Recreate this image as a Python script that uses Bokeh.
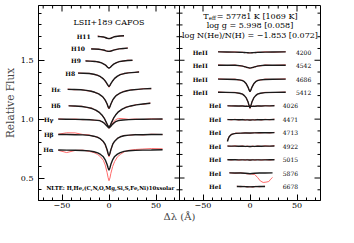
import math
from bokeh.plotting import figure
from bokeh.models import Range1d, FixedTicker, Span
from bokeh.core.properties import value
from bokeh.embed import file_html
from bokeh.resources import INLINE

# ---------------- left panel: Balmer lines ----------------
balmer_names = ["H11", "H10", "H9", "H8", "Hε", "Hδ", "Hγ", "Hβ", "Hα"]
balmer_cont = [1.704, 1.597, 1.494, 1.391, 1.253, 1.113, 1.000, 0.870, 0.738]

h11_x = [-12, -9, -6, -4, -2, 0, 2, 4, 6, 9, 12, 16]
h11_mod = [1.702, 1.701, 1.698, 1.693, 1.687, 1.684, 1.687, 1.694, 1.700, 1.704, 1.706, 1.708]
h11_obs = [1.708, 1.700, 1.699, 1.690, 1.688, 1.682, 1.689, 1.693, 1.703, 1.702, 1.709, 1.706]

h10_x = [-19, -15, -11, -8, -5, -3, -1, 0, 1, 3, 5, 8, 11, 15, 20]
h10_mod = [1.596, 1.595, 1.593, 1.590, 1.585, 1.580, 1.576, 1.575, 1.576, 1.581, 1.586, 1.592, 1.597, 1.600, 1.603]
h10_obs = [1.600, 1.593, 1.595, 1.588, 1.587, 1.578, 1.577, 1.573, 1.579, 1.580, 1.589, 1.590, 1.599, 1.598, 1.605]

h9_x = [-25, -20, -15, -11, -8, -5, -3, -1.5, 0, 1.5, 3, 5, 8, 11, 15, 20, 25]
h9_mod = [1.494, 1.493, 1.490, 1.485, 1.478, 1.466, 1.454, 1.441, 1.432, 1.441, 1.454, 1.467, 1.480, 1.488, 1.494, 1.498, 1.500]
h9_obs = [1.497, 1.491, 1.492, 1.483, 1.480, 1.463, 1.456, 1.438, 1.434, 1.443, 1.451, 1.469, 1.478, 1.490, 1.492, 1.501, 1.498]

h8_x = [-33, -27, -21, -16, -12, -9, -6, -4, -2, -1, 0, 1, 2, 4, 6, 9, 12, 16, 21, 27, 32]
h8_mod = [1.391, 1.390, 1.387, 1.381, 1.372, 1.360, 1.342, 1.324, 1.300, 1.287, 1.277, 1.287, 1.301, 1.326, 1.346, 1.365, 1.378, 1.387, 1.393, 1.397, 1.400]
h8_obs = [1.394, 1.388, 1.389, 1.379, 1.374, 1.357, 1.345, 1.320, 1.296, 1.283, 1.270, 1.284, 1.304, 1.322, 1.349, 1.362, 1.380, 1.385, 1.396, 1.395, 1.403]

he_x = [-44, -37, -30, -24, -19, -15, -11, -8, -6, -4, -2, -1, 0, 1, 2, 4, 6, 8, 11, 15, 19, 24, 30, 37, 45]
he_mod = [1.253, 1.252, 1.249, 1.244, 1.237, 1.228, 1.214, 1.198, 1.183, 1.161, 1.128, 1.106, 1.090, 1.106, 1.129, 1.163, 1.186, 1.202, 1.218, 1.232, 1.241, 1.248, 1.253, 1.257, 1.260]
he_obs = [1.256, 1.249, 1.252, 1.241, 1.239, 1.225, 1.217, 1.195, 1.186, 1.158, 1.131, 1.102, 1.086, 1.109, 1.126, 1.166, 1.183, 1.205, 1.215, 1.236, 1.239, 1.251, 1.250, 1.260, 1.258]

hd_x = [-43, -36, -29, -23, -18, -14, -10, -7, -5, -3, -1.5, 0, 1.5, 3, 5, 7, 10, 14, 18, 23, 29, 36, 44]
hd_mod = [1.113, 1.111, 1.107, 1.100, 1.090, 1.076, 1.055, 1.030, 1.007, 0.975, 0.948, 0.930, 0.949, 0.977, 1.010, 1.035, 1.062, 1.085, 1.100, 1.112, 1.121, 1.128, 1.135]
hd_obs = [1.116, 1.108, 1.110, 1.097, 1.093, 1.073, 1.058, 1.027, 1.010, 0.971, 0.951, 0.926, 0.952, 0.973, 1.013, 1.032, 1.065, 1.082, 1.103, 1.109, 1.124, 1.125, 1.138]

hg_x = [-54, -45, -36, -28, -21, -15, -10, -7, -5, -3, -1.5, 0, 1.5, 3, 5, 7, 10, 15, 21, 28, 36, 45, 57]
hg_mod = [1.000, 0.999, 0.998, 0.997, 0.995, 0.992, 0.987, 0.977, 0.965, 0.949, 0.935, 0.925, 0.935, 0.950, 0.966, 0.978, 0.988, 0.993, 0.996, 0.998, 0.999, 1.000, 1.001]
hg_obs = [1.003, 0.997, 1.001, 0.995, 0.998, 0.989, 0.990, 0.974, 0.968, 0.946, 0.938, 0.921, 0.938, 0.955, 0.975, 0.995, 1.006, 1.004, 0.998, 1.001, 0.997, 1.003, 0.999]

hb_x = [-54, -45, -36, -28, -21, -16, -12, -9, -6, -4, -2, -1, 0, 1, 2, 4, 6, 9, 12, 16, 21, 28, 36, 45, 57]
hb_mod = [0.870, 0.869, 0.868, 0.866, 0.862, 0.855, 0.845, 0.832, 0.810, 0.785, 0.740, 0.710, 0.688, 0.710, 0.741, 0.787, 0.813, 0.836, 0.850, 0.859, 0.864, 0.867, 0.868, 0.869, 0.870]
hb_obs = [0.872, 0.884, 0.883, 0.870, 0.866, 0.852, 0.848, 0.829, 0.806, 0.780, 0.733, 0.702, 0.680, 0.705, 0.737, 0.790, 0.810, 0.839, 0.848, 0.862, 0.861, 0.870, 0.866, 0.872, 0.869]

ha_x = [-54, -45, -36, -28, -21, -16, -12, -9, -6, -4, -2, -1, 0, 1, 2, 4, 6, 9, 12, 16, 21, 28, 36, 45, 57]
ha_mod = [0.738, 0.737, 0.736, 0.734, 0.730, 0.723, 0.713, 0.700, 0.680, 0.655, 0.615, 0.587, 0.567, 0.587, 0.616, 0.657, 0.683, 0.703, 0.716, 0.726, 0.732, 0.735, 0.737, 0.738, 0.740]
ha_obs = [0.735, 0.716, 0.734, 0.737, 0.726, 0.716, 0.700, 0.680, 0.650, 0.610, 0.545, 0.505, 0.477, 0.500, 0.540, 0.600, 0.640, 0.680, 0.700, 0.722, 0.735, 0.742, 0.746, 0.750, 0.748]

balmer_x = [h11_x, h10_x, h9_x, h8_x, he_x, hd_x, hg_x, hb_x, ha_x]
balmer_mod = [h11_mod, h10_mod, h9_mod, h8_mod, he_mod, hd_mod, hg_mod, hb_mod, ha_mod]
balmer_obs = [h11_obs, h10_obs, h9_obs, h8_obs, he_obs, hd_obs, hg_obs, hb_obs, ha_obs]

# ---------------- right panel: helium lines ----------------
helium_ions = ["HeII", "HeII", "HeII", "HeII", "HeI", "HeI", "HeI", "HeI", "HeI", "HeI", "HeI"]
helium_wl = ["4200", "4542", "4686", "5412", "4026", "4471", "4713", "4922", "5015", "5876", "6678"]
helium_cont = [1.570, 1.458, 1.340, 1.228, 1.113, 0.996, 0.883, 0.771, 0.654, 0.542, 0.427]

heii_x = [-34, -24, -16, -11, -8, -6, -4, -2, -1, 0, 1, 2, 4, 6, 8, 11, 16, 24, 38]
he4200_mod = [1.571, 1.570, 1.569, 1.568, 1.567, 1.566, 1.565, 1.564, 1.563, 1.563, 1.563, 1.564, 1.565, 1.566, 1.567, 1.568, 1.569, 1.570, 1.571]
he4200_obs = [1.574, 1.568, 1.571, 1.566, 1.569, 1.564, 1.567, 1.561, 1.565, 1.560, 1.566, 1.562, 1.567, 1.564, 1.570, 1.566, 1.572, 1.568, 1.573]
he4542_mod = [1.458, 1.458, 1.457, 1.454, 1.450, 1.446, 1.441, 1.437, 1.435, 1.433, 1.435, 1.437, 1.441, 1.446, 1.450, 1.454, 1.457, 1.458, 1.458]
he4542_obs = [1.461, 1.455, 1.460, 1.451, 1.453, 1.443, 1.444, 1.434, 1.437, 1.430, 1.438, 1.434, 1.444, 1.443, 1.453, 1.451, 1.460, 1.456, 1.461]
he4686_mod = [1.340, 1.339, 1.337, 1.333, 1.327, 1.318, 1.300, 1.270, 1.248, 1.234, 1.248, 1.270, 1.300, 1.318, 1.327, 1.333, 1.337, 1.339, 1.340]
he4686_obs = [1.343, 1.337, 1.340, 1.330, 1.330, 1.315, 1.303, 1.266, 1.251, 1.230, 1.251, 1.267, 1.303, 1.315, 1.330, 1.331, 1.340, 1.337, 1.342]
he5412_mod = [1.228, 1.227, 1.225, 1.220, 1.212, 1.200, 1.180, 1.145, 1.115, 1.095, 1.115, 1.145, 1.180, 1.200, 1.212, 1.220, 1.225, 1.227, 1.228]
he5412_obs = [1.231, 1.225, 1.228, 1.217, 1.215, 1.197, 1.183, 1.141, 1.118, 1.090, 1.118, 1.141, 1.183, 1.197, 1.215, 1.218, 1.228, 1.225, 1.230]

hei_x = [-24, -20, -16, -12, -8, -5, -3, 0, 3, 5, 8, 12, 16, 21, 26]
he4026_mod = [1.113, 1.113, 1.112, 1.112, 1.111, 1.110, 1.109, 1.108, 1.109, 1.110, 1.111, 1.112, 1.113, 1.113, 1.114]
he4026_obs = [1.116, 1.110, 1.115, 1.109, 1.114, 1.107, 1.112, 1.105, 1.112, 1.107, 1.114, 1.109, 1.116, 1.111, 1.117]
he4471_mod = [0.996, 0.996, 0.996, 0.995, 0.995, 0.994, 0.994, 0.993, 0.994, 0.994, 0.995, 0.995, 0.996, 0.996, 0.997]
he4471_obs = [0.999, 0.993, 0.999, 0.992, 0.998, 0.991, 0.997, 0.990, 0.997, 0.991, 0.998, 0.992, 0.999, 0.994, 1.000]
he4922_mod = [0.771, 0.771, 0.771, 0.770, 0.770, 0.769, 0.769, 0.768, 0.769, 0.769, 0.770, 0.770, 0.771, 0.771, 0.772]
he4922_obs = [0.774, 0.768, 0.774, 0.767, 0.773, 0.766, 0.772, 0.765, 0.772, 0.766, 0.773, 0.767, 0.774, 0.769, 0.775]
he5015_mod = [0.655, 0.655, 0.655, 0.654, 0.654, 0.654, 0.654, 0.653, 0.654, 0.654, 0.654, 0.654, 0.654, 0.655, 0.655]
he5015_obs = [0.658, 0.652, 0.658, 0.651, 0.657, 0.651, 0.657, 0.650, 0.657, 0.651, 0.657, 0.651, 0.657, 0.652, 0.658]

he4713_x = [-24, -23, -22, -20, -18, -15, -10, -5, 0, 5, 10, 16, 21, 26]
he4713_mod = [0.810, 0.835, 0.853, 0.868, 0.875, 0.879, 0.881, 0.882, 0.882, 0.883, 0.884, 0.884, 0.884, 0.885]
he4713_obs = [0.820, 0.838, 0.856, 0.871, 0.872, 0.882, 0.878, 0.885, 0.879, 0.886, 0.881, 0.887, 0.882, 0.888]

he5876_x = [-22, -16, -10, -5, -2, 0, 2, 5, 10, 16, 24]
he5876_mod = [0.544, 0.543, 0.542, 0.541, 0.538, 0.536, 0.538, 0.541, 0.542, 0.543, 0.544]
he5876_obs_x = [-22, -16, -10, -5, -2, 0, 2, 5, 8, 11, 14, 17, 20, 22, 24]
he5876_obs = [0.545, 0.540, 0.545, 0.538, 0.534, 0.537, 0.533, 0.530, 0.505, 0.475, 0.462, 0.465, 0.470, 0.490, 0.505]

he6678_x = [-14, -10, -6, -3, 0, 3, 6, 10, 16]
he6678_mod = [0.428, 0.428, 0.427, 0.426, 0.425, 0.426, 0.427, 0.428, 0.428]
he6678_obs = [0.431, 0.425, 0.430, 0.423, 0.428, 0.422, 0.430, 0.425, 0.431]

helium_x = [heii_x, heii_x, heii_x, heii_x, hei_x, hei_x, he4713_x, hei_x, hei_x, he5876_x, he6678_x]
helium_obs_x = [heii_x, heii_x, heii_x, heii_x, hei_x, hei_x, he4713_x, hei_x, hei_x, he5876_obs_x, he6678_x]
helium_mod = [he4200_mod, he4542_mod, he4686_mod, he5412_mod, he4026_mod, he4471_mod, he4713_mod,
              he4922_mod, he5015_mod, he5876_mod, he6678_mod]
helium_obs = [he4200_obs, he4542_obs, he4686_obs, he5412_obs, he4026_obs, he4471_obs, he4713_obs,
              he4922_obs, he5015_obs, he5876_obs, he6678_obs]

# ---------------- texts ----------------
star_label = "LSII+189 CAFOS"
nlte_label = "NLTE: H,He,(C,N,O,Mg,Si,S,Fe,Ni)10xsolar"
teff_text = "= 57781 K [1069 K]"
logg_text = "log g = 5.998 [0.058]"
lognhe_text = "log N(He)/N(H) = −1.853 [0.072]"

x_major = [-50, 0, 50]
y_major = [0.5, 1.0, 1.5]
y_minor = [0.4, 0.6, 0.7, 0.8, 0.9, 1.1, 1.2, 1.3, 1.4, 1.6, 1.7, 1.8, 1.9]

# ---------------- layout / style ----------------
SERIF = "DejaVu Serif"
OBS = "#ff6a6a"
MOD = "#1a1a1a"
PANEL = 150  # width of one panel in Δλ units (-75..75)

left_range = Range1d(-75, -75 + 2 * PANEL)
y_range = Range1d(0.309, 1.965)
p = figure(width=323, height=224, x_range=left_range, y_range=y_range,
           output_backend="svg", toolbar_location=None,
           min_border_left=31, min_border_right=3, min_border_top=5, min_border_bottom=23)
p.extra_x_ranges = {"right": Range1d(-75 - PANEL, 75)}
p.grid.visible = False
p.outline_line_color = "black"
p.outline_line_width = 1
p.background_fill_color = "white"
p.border_fill_color = "white"

xt_major = x_major + [v + PANEL for v in x_major]
xt_minor = [v for v in range(-70, 71, 10) if v not in x_major]
xt_minor = xt_minor + [v + PANEL for v in xt_minor]
x_labels = {}
for v in x_major:
    s = str(v).replace("-", "−")
    x_labels[v] = s
    x_labels[v + PANEL] = s

def style_axis(ax):
    ax.major_tick_in = 6
    ax.major_tick_out = 0
    ax.minor_tick_in = 3
    ax.minor_tick_out = 0
    ax.axis_line_color = "black"
    ax.major_tick_line_color = "black"
    ax.minor_tick_line_color = "black"
    ax.major_label_text_font = SERIF
    ax.major_label_text_font_size = "8px"
    ax.major_label_text_color = "black"

xb = p.xaxis[0]
xb.ticker = FixedTicker(ticks=xt_major, minor_ticks=xt_minor)
xb.major_label_overrides = x_labels
style_axis(xb)
xb.major_label_standoff = 2
xb.axis_label = "Δλ (Å)"
xb.axis_label_text_font = SERIF
xb.axis_label_text_font_size = "10px"
xb.axis_label_text_font_style = "normal"
xb.axis_label_standoff = 0

yl = p.yaxis[0]
yl.ticker = FixedTicker(ticks=y_major, minor_ticks=y_minor)
yl.major_label_overrides = {0.5: "0.5", 1.0: "1.0", 1.5: "1.5"}
style_axis(yl)
yl.major_label_standoff = 5
yl.axis_label = "Relative Flux"
yl.axis_label_text_font = SERIF
yl.axis_label_text_font_size = "10.5px"
yl.axis_label_text_font_style = "normal"
yl.axis_label_standoff = 2

# inward tick marks on the top edge, right edge and the divider between the panels
# (dash markers centred on the frame edges; the frame clips the outer half)
top = y_range.end
right = left_range.end
boundary = left_range.end - PANEL
p.scatter(x=xt_major, y=[top] * len(xt_major), marker="dash", angle=math.pi / 2, size=12,
          line_color="black", line_width=1)
p.scatter(x=xt_minor, y=[top] * len(xt_minor), marker="dash", angle=math.pi / 2, size=6,
          line_color="black", line_width=1)
p.scatter(x=[right] * len(y_major), y=y_major, marker="dash", size=12, line_color="black", line_width=1)
p.scatter(x=[right] * len(y_minor), y=y_minor, marker="dash", size=6, line_color="black", line_width=1)

p.add_layout(Span(location=boundary, dimension="height", line_color="black", line_width=1))
p.scatter(x=[boundary] * len(y_minor), y=y_minor, marker="dash", size=6, line_color="black", line_width=1)
p.scatter(x=[boundary] * len(y_major), y=y_major, marker="dash", size=10, line_color="black", line_width=1)

# ---- left panel curves ----
for xs, obs in zip(balmer_x, balmer_obs):
    p.line(xs, obs, line_color=OBS, line_width=1)
for xs, mod in zip(balmer_x, balmer_mod):
    p.line(xs, mod, line_color=MOD, line_width=1.4)

balmer_label_x = [-19.5, -25.5, -30, -36, -51.5, -51.5, -59, -59, -59]
p.text(x=balmer_label_x, y=balmer_cont, text=balmer_names, text_font=value(SERIF),
       text_font_size="6px", text_font_style="bold", text_align="right", text_baseline="middle",
       text_color="black")
p.text(x=[0], y=[1.82], text=[star_label], text_font=value(SERIF), text_font_size="8px",
       text_align="center", text_baseline="middle", text_color="black")
p.text(x=[1.5], y=[0.413], text=[nlte_label], text_font=value(SERIF), text_font_size="5.4px",
       text_font_style="bold", text_align="center", text_baseline="middle", text_color="black")

# ---- right panel curves ----
for xs, obs in zip(helium_obs_x, helium_obs):
    p.line(xs, obs, line_color=OBS, line_width=1, x_range_name="right")
for xs, mod in zip(helium_x, helium_mod):
    p.line(xs, mod, line_color=MOD, line_width=1.4, x_range_name="right")

ion_label_x = [-53 if ion == "HeII" else -37 for ion in helium_ions]
wl_label_x = [57 if ion == "HeII" else 43 for ion in helium_ions]
p.text(x=ion_label_x, y=helium_cont, text=helium_ions, text_font=value(SERIF), text_font_size="6px",
       text_font_style="bold", text_align="center", text_baseline="middle", text_color="black",
       x_range_name="right")
p.text(x=wl_label_x, y=helium_cont, text=helium_wl, text_font=value(SERIF), text_font_size="6px",
       text_align="center", text_baseline="middle", text_color="black", x_range_name="right")

p.text(x=[-44], y=[1.872], text=["T"], text_font=value(SERIF), text_font_size="8px",
       text_align="right", text_baseline="middle", text_color="black", x_range_name="right")
p.text(x=[-44], y=[1.862], text=["eff"], text_font=value(SERIF), text_font_size="5.5px",
       text_align="left", text_baseline="middle", text_color="black", x_range_name="right")
p.text(x=[-35.5], y=[1.872], text=[teff_text], text_font=value(SERIF), text_font_size="8px",
       text_align="left", text_baseline="middle", text_color="black", x_range_name="right")
p.text(x=[0, 0], y=[1.797, 1.713], text=[logg_text, lognhe_text], text_font=value(SERIF),
       text_font_size="8px", text_align="center", text_baseline="middle", text_color="black",
       x_range_name="right")

open("out.html", "w").write(file_html(p, INLINE))
